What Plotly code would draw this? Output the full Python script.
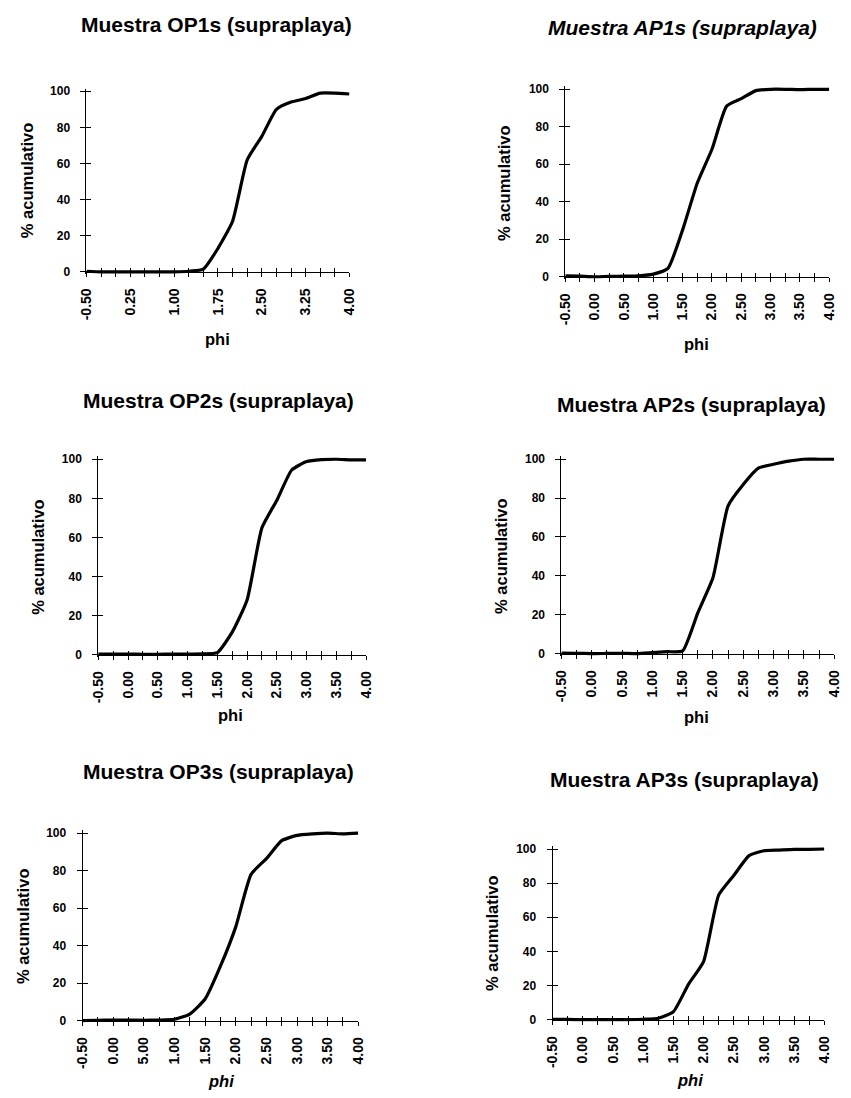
import plotly.graph_objects as go

W, H = 851, 1098

# ---------------- data ----------------
phi = [-0.5, -0.25, 0.0, 0.25, 0.5, 0.75, 1.0, 1.25, 1.5, 1.75,
       2.0, 2.25, 2.5, 2.75, 3.0, 3.25, 3.5, 3.75, 4.0]

op1s = [0.3, 0, 0, 0, 0, 0, 0, 0.3, 1.5, 13, 28, 62, 75, 90, 94, 96, 99, 99, 98.5]
ap1s = [0.5, 0.3, 0, 0.2, 0.3, 0.5, 1.4, 4.5, 25, 50, 68, 91, 95, 99.3, 100, 100, 99.8, 100, 100]
op2s = [0.3, 0.3, 0.3, 0.2, 0.2, 0.3, 0.3, 0.4, 1, 11.5, 28, 65, 79, 94.5, 98.8, 99.8, 100, 99.7, 99.7]
ap2s = [0.3, 0.2, 0, 0.1, 0.2, 0, 0.5, 1, 1.4, 21, 39, 76, 87, 95.4, 97.4, 99, 100, 100, 100]
op3s = [0, 0.2, 0.3, 0.3, 0.2, 0.3, 0.7, 3.5, 11.5, 29, 50, 78, 86.4, 96, 98.8, 99.6, 100, 99.6, 100]
ap3s = [0.2, 0.1, 0, 0, 0, 0, 0.2, 0.8, 4.6, 20.7, 34, 73, 84.5, 96, 99, 99.4, 99.8, 99.8, 100]

labels_half = ["-0.50", "", "0.00", "", "0.50", "", "1.00", "", "1.50", "",
               "2.00", "", "2.50", "", "3.00", "", "3.50", "", "4.00"]
labels_op1 = ["-0.50", "", "", "0.25", "", "", "1.00", "", "", "1.75",
              "", "", "2.50", "", "", "3.25", "", "", "4.00"]
labels_op3 = ["-0.50", "", "0.00", "", "5.00", "", "1.00", "", "1.50", "",
              "2.00", "", "2.50", "", "3.00", "", "3.50", "", "4.00"]

y_ticks = [0, 20, 40, 60, 80, 100]

titles = ["Muestra OP1s (supraplaya)", "Muestra AP1s (supraplaya)",
          "Muestra OP2s (supraplaya)", "Muestra AP2s (supraplaya)",
          "Muestra OP3s (supraplaya)", "Muestra AP3s (supraplaya)"]
series = [op1s, ap1s, op2s, ap2s, op3s, ap3s]
xlabels = [labels_op1, labels_half, labels_half, labels_half, labels_op3, labels_half]
title_italic = [False, True, False, False, False, False]
phi_italic = [False, False, False, False, True, True]
ytitle = "% acumulativo"
xtitle = "phi"

# ---------------- layout geometry (pixels) ----------------
# (x_left, x_right, y_zero, y_hundred, title_cx, title_cy, ytitle_cx, ytitle_cy, xtitle_cx, xtitle_cy)
geom = [
    (80, 348, 270, 88, 212, 21, 19, 178, 214, 338),
    (568, 837, 275, 86, 687, 24, 505, 181, 702, 343),
    (92, 365, 656, 459, 215, 400, 31, 557, 227, 717),
    (564, 842, 655, 459, 697, 404, 503, 557, 702, 719),
    (76, 357, 1025, 836, 215, 774, 16, 930, 217, 1086),
    (555, 832, 1024, 852, 689, 782, 494, 937, 695, 1085),
]

FONT = "Liberation Sans, Arial, sans-serif"
YLO, YHI = -1.2, 101.5

fig = go.Figure()
layout = dict(
    width=W, height=H, margin=dict(l=0, r=0, t=0, b=0),
    paper_bgcolor="white", plot_bgcolor="white", showlegend=False,
    font=dict(family=FONT, color="black"),
)
annotations = []

def px_x(p):
    return p / W

def px_y(p):
    return 1 - p / H

for i in range(6):
    k = i + 1
    ko = i + 7
    xl, xr, y0, y100, tcx, tcy, ycx, ycy, xcx, xcy = geom[i]
    ppu = (y0 - y100) / 100.0
    top_px = y100 - (YHI - 100) * ppu
    bot_px = y0 + (0 - YLO) * ppu
    xdom = [px_x(xl), px_x(xr)]
    ydom = [px_y(bot_px), px_y(top_px)]
    xid = "x" if k == 1 else f"x{k}"
    yid = "y" if k == 1 else f"y{k}"
    xkey = "xaxis" if k == 1 else f"xaxis{k}"
    ykey = "yaxis" if k == 1 else f"yaxis{k}"

    fig.add_trace(go.Scatter(
        x=phi, y=series[i], mode="lines", xaxis=xid, yaxis=yid,
        line=dict(color="black", width=3.2, shape="spline", smoothing=0.5),
        hoverinfo="skip",
    ))
    # overlay (inside ticks) axes for cross-style ticks
    fig.add_trace(go.Scatter(x=[], y=[], mode="lines", xaxis=f"x{ko}", yaxis=f"y{ko}",
                             hoverinfo="skip"))

    layout[xkey] = dict(
        domain=xdom, range=[-0.5, 4.0], anchor="free", position=px_y(y0),
        tickmode="array", tickvals=phi, ticktext=xlabels[i],
        ticks="outside", ticklen=4, tickwidth=1, tickcolor="black",
        showline=True, linecolor="black", linewidth=1,
        showgrid=False, zeroline=False, tickangle=-90,
        tickfont=dict(size=14, family=FONT, color="black", weight="bold"),
        ticklabelstandoff=6,
    )
    layout[ykey] = dict(
        domain=ydom, range=[YLO, YHI], anchor=xid,
        tickmode="array", tickvals=y_ticks, ticktext=[str(v) for v in y_ticks],
        ticks="outside", ticklen=5, tickwidth=1, tickcolor="black",
        showline=True, linecolor="black", linewidth=1,
        showgrid=False, zeroline=False,
        tickfont=dict(size=12, family=FONT, color="black", weight="bold"),
        ticklabelstandoff=8,
    )
    layout[f"xaxis{ko}"] = dict(
        overlaying=xid, domain=xdom, range=[-0.5, 4.0], anchor="free", position=px_y(y0),
        tickmode="array", tickvals=phi, ticks="inside", ticklen=4, tickwidth=1,
        tickcolor="black", showticklabels=False, showline=False,
        showgrid=False, zeroline=False,
    )
    layout[f"yaxis{ko}"] = dict(
        overlaying=yid, domain=ydom, range=[YLO, YHI], anchor=f"x{ko}",
        tickmode="array", tickvals=y_ticks, ticks="inside", ticklen=5, tickwidth=1,
        tickcolor="black", showticklabels=False, showline=False,
        showgrid=False, zeroline=False,
    )

    ttxt = f"<b>{titles[i]}</b>"
    if title_italic[i]:
        ttxt = f"<b><i>{titles[i]}</i></b>"
    annotations.append(dict(text=ttxt, x=px_x(tcx), y=px_y(tcy), xref="paper", yref="paper",
                            xanchor="center", yanchor="middle", showarrow=False,
                            font=dict(size=21, family=FONT, color="black")))
    annotations.append(dict(text=f"<b>{ytitle}</b>", x=px_x(ycx), y=px_y(ycy),
                            xref="paper", yref="paper", textangle=-90,
                            xanchor="center", yanchor="middle", showarrow=False,
                            font=dict(size=16.5, family=FONT, color="black")))
    xt = f"<b><i>{xtitle}</i></b>" if phi_italic[i] else f"<b>{xtitle}</b>"
    annotations.append(dict(text=xt, x=px_x(xcx), y=px_y(xcy), xref="paper", yref="paper",
                            xanchor="center", yanchor="middle", showarrow=False,
                            font=dict(size=16.5, family=FONT, color="black")))

layout["annotations"] = annotations
fig.update_layout(**layout)
fig.write_html("out.html", config={"displayModeBar": False},
               post_script="document.body.style.margin='0px';")
